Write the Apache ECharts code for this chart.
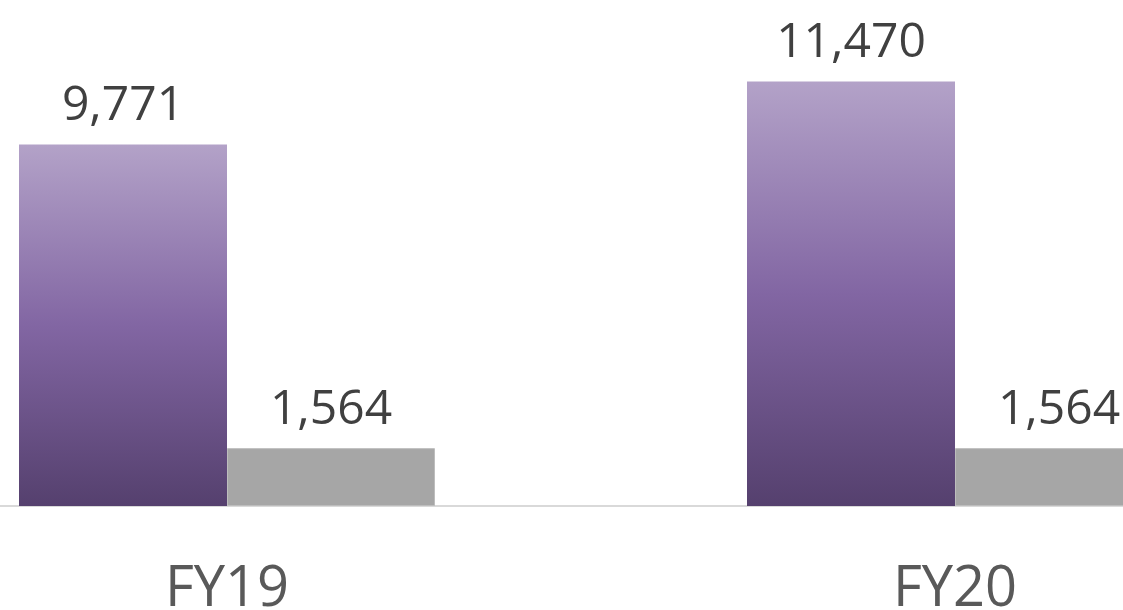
<!DOCTYPE html>
<html>
<head>
<meta charset="utf-8">
<script src="https://cdn.jsdelivr.net/npm/echarts@6/dist/echarts.min.js"></script>
<style>html,body{margin:0;padding:0;background:#fff;}#c{width:1123px;height:610px;}</style>
</head>
<body>
<div id="c"></div>
<script>
const categories = ['FY19', 'FY20'];
const purpleValues = [9771, 11470];
const grayValues = [1564, 1564];

const chart = echarts.init(document.getElementById('c'));
const fmt = v => v.value.toLocaleString('en-US');
chart.setOption({
  animation: false,
  grid: { left: -137, right: -196, top: 62, bottom: 104, containLabel: false, outerBoundsMode: 'none' },
  xAxis: {
    type: 'category',
    data: categories,
    axisLine: { show: true, lineStyle: { color: '#d9d9d9', width: 2 } },
    axisTick: { show: false },
    axisLabel: { fontFamily: 'Open Sans', fontSize: 56, color: '#595959', margin: 56 }
  },
  yAxis: { type: 'value', min: 0, max: 12000, show: false, splitLine: { show: false } },
  series: [
    {
      type: 'bar', data: purpleValues, barWidth: 208, barGap: '0%', barCategoryGap: '42.9%',
      itemStyle: {
        color: new echarts.graphic.LinearGradient(0, 0, 0, 1, [
          { offset: 0, color: '#b3a2c8' },
          { offset: 0.5, color: '#8266a3' },
          { offset: 1, color: '#55406e' }
        ])
      },
      label: { show: true, position: 'top', distance: 14, formatter: fmt, fontFamily: 'Open Sans', fontSize: 48, color: '#404040' }
    },
    {
      type: 'bar', data: grayValues, barWidth: 208, barGap: '0%',
      itemStyle: { color: '#a6a6a6', borderColor: '#bdbdbd', borderWidth: 1 },
      label: { show: true, position: 'top', distance: 14, formatter: fmt, fontFamily: 'Open Sans', fontSize: 48, color: '#404040' }
    }
  ]
});
</script>
</body>
</html>
